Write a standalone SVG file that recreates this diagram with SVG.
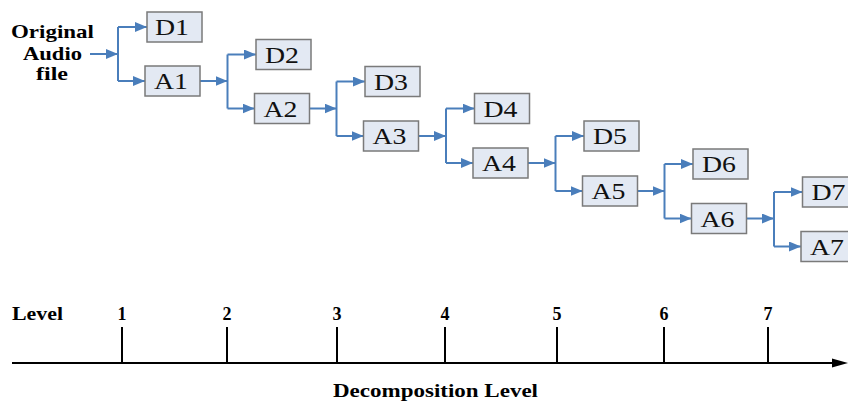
<svg xmlns="http://www.w3.org/2000/svg" width="848" height="403" viewBox="0 0 848 403">
  <style>
    .box { fill: #e3e9f3; stroke: #7a7a7a; stroke-width: 1.5; }
    .lbl { font-family: "Liberation Serif", "Times New Roman", serif; font-size: 23px; fill: #111; text-anchor: middle; }
    .bold { font-family: "Liberation Serif", "Times New Roman", serif; font-weight: bold; fill: #000; }
    .wire { fill: none; stroke: #4a7ebb; stroke-width: 2; }
    .axis { fill: none; stroke: #000; stroke-width: 2; }
  </style>
  <defs>
    <marker id="arr" markerUnits="userSpaceOnUse" markerWidth="13" markerHeight="10" refX="12" refY="5" orient="auto">
      <path d="M0,0 L12,5 L0,10 Z" fill="#4a7ebb"/>
    </marker>
  </defs>

  <rect width="848" height="403" fill="#fff"/>

  <!-- input label -->
  <g id="input">
    <text class="bold" font-size="19" x="11" y="38" textLength="83" lengthAdjust="spacingAndGlyphs">Original</text>
    <text class="bold" font-size="19" x="23" y="60" textLength="59" lengthAdjust="spacingAndGlyphs">Audio</text>
    <text class="bold" font-size="19" x="36" y="80" textLength="32" lengthAdjust="spacingAndGlyphs">file</text>
  </g>

  <!-- connectors -->
  <g id="connectors">
    <!-- level 1 -->
    <path class="wire" d="M90,54 H118" marker-end="url(#arr)"/>
    <path class="wire" d="M118,27 V81"/>
    <path class="wire" d="M118,27 H147" marker-end="url(#arr)"/>
    <path class="wire" d="M118,81 H145" marker-end="url(#arr)"/>
    <!-- level 2 -->
    <path class="wire" d="M200,81 H227.5" marker-end="url(#arr)"/>
    <path class="wire" d="M227.5,54.5 V108.5"/>
    <path class="wire" d="M227.5,54.5 H256" marker-end="url(#arr)"/>
    <path class="wire" d="M227.5,108.5 H254.5" marker-end="url(#arr)"/>
    <!-- level 3 -->
    <path class="wire" d="M309.5,108.5 H336.5" marker-end="url(#arr)"/>
    <path class="wire" d="M336.5,81.5 V136"/>
    <path class="wire" d="M336.5,81.5 H365" marker-end="url(#arr)"/>
    <path class="wire" d="M336.5,136 H363.5" marker-end="url(#arr)"/>
    <!-- level 4 -->
    <path class="wire" d="M418.5,136 H446" marker-end="url(#arr)"/>
    <path class="wire" d="M446,108.5 V163"/>
    <path class="wire" d="M446,108.5 H474.5" marker-end="url(#arr)"/>
    <path class="wire" d="M446,163 H473" marker-end="url(#arr)"/>
    <!-- level 5 -->
    <path class="wire" d="M528,163 H555.5" marker-end="url(#arr)"/>
    <path class="wire" d="M555.5,136 V191"/>
    <path class="wire" d="M555.5,136 H584" marker-end="url(#arr)"/>
    <path class="wire" d="M555.5,191 H582.5" marker-end="url(#arr)"/>
    <!-- level 6 -->
    <path class="wire" d="M637.5,191 H664.5" marker-end="url(#arr)"/>
    <path class="wire" d="M664.5,164 V218.5"/>
    <path class="wire" d="M664.5,164 H693" marker-end="url(#arr)"/>
    <path class="wire" d="M664.5,218.5 H691.5" marker-end="url(#arr)"/>
    <!-- level 7 -->
    <path class="wire" d="M746.5,218.5 H774" marker-end="url(#arr)"/>
    <path class="wire" d="M774,192 V246.5"/>
    <path class="wire" d="M774,192 H802.5" marker-end="url(#arr)"/>
    <path class="wire" d="M774,246.5 H801" marker-end="url(#arr)"/>
  </g>

  <!-- detail / approximation blocks -->
  <g id="D1"><rect class="box" x="147" y="12" width="55" height="30"/><text class="lbl" x="172" y="35" textLength="34" lengthAdjust="spacingAndGlyphs">D1</text></g>
  <g id="A1"><rect class="box" x="145" y="66" width="55" height="30"/><text class="lbl" x="171" y="89" textLength="34" lengthAdjust="spacingAndGlyphs">A1</text></g>
  <g id="D2"><rect class="box" x="256" y="39.5" width="55" height="30"/><text class="lbl" x="282" y="62.5" textLength="34" lengthAdjust="spacingAndGlyphs">D2</text></g>
  <g id="A2"><rect class="box" x="254.5" y="93.5" width="55" height="30"/><text class="lbl" x="280.5" y="116.5" textLength="34" lengthAdjust="spacingAndGlyphs">A2</text></g>
  <g id="D3"><rect class="box" x="365" y="66.5" width="55" height="30"/><text class="lbl" x="391" y="89.5" textLength="34" lengthAdjust="spacingAndGlyphs">D3</text></g>
  <g id="A3"><rect class="box" x="363.5" y="121" width="55" height="30"/><text class="lbl" x="389.5" y="144" textLength="34" lengthAdjust="spacingAndGlyphs">A3</text></g>
  <g id="D4"><rect class="box" x="474.5" y="93.5" width="55" height="30"/><text class="lbl" x="500.5" y="116.5" textLength="34" lengthAdjust="spacingAndGlyphs">D4</text></g>
  <g id="A4"><rect class="box" x="473" y="148" width="55" height="30"/><text class="lbl" x="499" y="171" textLength="34" lengthAdjust="spacingAndGlyphs">A4</text></g>
  <g id="D5"><rect class="box" x="584" y="121" width="55" height="30"/><text class="lbl" x="610" y="144" textLength="34" lengthAdjust="spacingAndGlyphs">D5</text></g>
  <g id="A5"><rect class="box" x="582.5" y="176" width="55" height="30"/><text class="lbl" x="608.5" y="199" textLength="34" lengthAdjust="spacingAndGlyphs">A5</text></g>
  <g id="D6"><rect class="box" x="693" y="149" width="55" height="30"/><text class="lbl" x="719" y="172" textLength="34" lengthAdjust="spacingAndGlyphs">D6</text></g>
  <g id="A6"><rect class="box" x="691.5" y="203.5" width="55" height="30"/><text class="lbl" x="717.5" y="226.5" textLength="34" lengthAdjust="spacingAndGlyphs">A6</text></g>
  <g id="D7"><rect class="box" x="802.5" y="177" width="55" height="30"/><text class="lbl" x="828.5" y="200" textLength="34" lengthAdjust="spacingAndGlyphs">D7</text></g>
  <g id="A7"><rect class="box" x="801" y="231.5" width="55" height="30"/><text class="lbl" x="827" y="254.5" textLength="34" lengthAdjust="spacingAndGlyphs">A7</text></g>

  <!-- level axis -->
  <g id="axis">
    <path class="axis" d="M12,363 H836"/>
    <path d="M832,358.5 L848,363 L832,367.5 Z" fill="#000"/>
    <path class="axis" d="M122,327 V363 M227,327 V363 M337,327 V363 M445,327 V363 M557,327 V363 M664,327 V363 M768,327 V363"/>
    <text class="bold" font-size="18" x="12" y="320" textLength="51" lengthAdjust="spacingAndGlyphs">Level</text>
    <g class="bold" font-size="18" text-anchor="middle">
      <text x="122" y="320">1</text>
      <text x="227" y="320">2</text>
      <text x="337" y="320">3</text>
      <text x="445" y="320">4</text>
      <text x="557" y="320">5</text>
      <text x="664" y="320">6</text>
      <text x="768" y="320">7</text>
    </g>
    <text class="bold" font-size="18" x="333" y="397" textLength="205" lengthAdjust="spacingAndGlyphs">Decomposition Level</text>
  </g>
</svg>
